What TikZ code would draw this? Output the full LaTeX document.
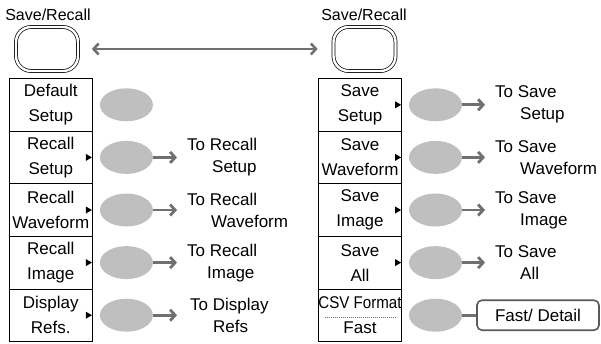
\documentclass[tikz,border=0pt]{standalone}
\usepackage{fontspec}
\setmainfont{Liberation Sans}
\usepackage{graphicx}
\usetikzlibrary{shapes.geometric,arrows.meta}
\definecolor{arrowgray}{RGB}{112,112,112}
\definecolor{keygray}{RGB}{191,191,191}
\definecolor{boxgray}{RGB}{89,89,89}
\begin{document}
\begin{tikzpicture}[x=1pt,y=-1pt,>={Straight Barb[length=5pt,width=11pt]},
  panelkey/.style={draw, double, line width=0.7pt, double distance=2.4pt, rounded corners=15pt, minimum width=62pt, minimum height=44pt, inner sep=0pt},
  menukey/.style={draw, line width=0.8pt, minimum width=83.5pt, minimum height=52.6pt, inner sep=0pt, align=center, font=\fontsize{17}{25}\selectfont},
  softkey/.style={ellipse, fill=keygray, minimum width=53pt, minimum height=33pt, inner sep=0pt},
  hint/.style={anchor=west, inner xsep=10pt, inner ysep=0pt, align=left, font=\fontsize{17}{22}\selectfont},
  hintarrow/.style={->, arrowgray, line width=2.8pt},
  marker/.style={fill=black}]
\useasboundingbox (0,0) rectangle (601,343);
% front panel keys
\node[font=\fontsize{16}{18}\selectfont] (lblL) at (48,15) {Save/Recall};
\node[font=\fontsize{16}{18}\selectfont] (lblR) at (364,15) {Save/Recall};
\node[panelkey] (btnL) at (47,49) {};
\node[panelkey] (btnR) at (364.5,49) {};
\draw[<->, arrowgray, line width=2.6pt, shorten <=13.5pt, shorten >=15.5pt] (btnL) -- (btnR);
% recall menu
\node[menukey] (mL1) at (50.75,104.8) {Default\\Setup};
\node[menukey] (mL2) at (50.75,157.4) {Recall\\Setup};
\node[menukey] (mL3) at (50.75,210) {Recall\\Waveform};
\node[menukey] (mL4) at (50.75,262.6) {Recall\\Image};
\node[menukey] (mL5) at (50.75,315.2) {Display\\Refs.};
\fill[marker] ([xshift=-1pt]mL2.east) -- ++(-6,-3.5) -- ++(0,7) -- cycle;
\fill[marker] ([xshift=-1pt]mL3.east) -- ++(-6,-3.5) -- ++(0,7) -- cycle;
\fill[marker] ([xshift=-1pt]mL4.east) -- ++(-6,-3.5) -- ++(0,7) -- cycle;
\fill[marker] ([xshift=-1pt]mL5.east) -- ++(-6,-3.5) -- ++(0,7) -- cycle;
\node[softkey] (eL1) at (126.4,104.8) {};
\node[softkey] (eL2) at (126.4,157.4) {};
\node[softkey] (eL3) at (126.4,210) {};
\node[softkey] (eL4) at (126.4,262.6) {};
\node[softkey] (eL5) at (126.4,315.2) {};
\node[hint] (tL2) at (177,157.4) {To Recall\\\hspace*{25pt}Setup};
\node[hint] (tL3) at (177,210) {To Recall\\\hspace*{24pt}Waveform};
\node[hint] (tL4) at (177,262.6) {To Recall\\\hspace*{20pt}Image};
\node[hint] (tL5) at (177,315.2) {\hspace*{3pt}To Display\\\hspace*{26pt}Refs};
\draw[hintarrow] (eL2) -- (tL2);
\draw[hintarrow] (eL3) -- (tL3);
\draw[hintarrow] (eL4) -- (tL4);
\draw[hintarrow] (eL5) -- (tL5);
% save menu
\node[menukey] (mR1) at (360,104.8) {Save\\Setup};
\node[menukey] (mR2) at (360,157.4) {Save\\Waveform};
\node[menukey] (mR3) at (360,210) {Save\\Image};
\node[menukey] (mR4) at (360,262.6) {Save\\All};
\node[menukey] (mR5) at (360,315.2) {\scalebox{0.89}[1]{CSV Format}\\Fast};
\draw[arrowgray, line width=0.4pt, dash pattern=on 1pt off 1pt] ([shift={(7,2)}]mR5.west) -- ([shift={(-7,2)}]mR5.east);
\fill[marker] ([xshift=-1pt]mR1.east) -- ++(-6,-3.5) -- ++(0,7) -- cycle;
\fill[marker] ([xshift=-1pt]mR2.east) -- ++(-6,-3.5) -- ++(0,7) -- cycle;
\fill[marker] ([xshift=-1pt]mR3.east) -- ++(-6,-3.5) -- ++(0,7) -- cycle;
\fill[marker] ([xshift=-1pt]mR4.east) -- ++(-6,-3.5) -- ++(0,7) -- cycle;
\node[softkey] (eR1) at (435.5,104.8) {};
\node[softkey] (eR2) at (435.5,157.4) {};
\node[softkey] (eR3) at (435.5,210) {};
\node[softkey] (eR4) at (435.5,262.6) {};
\node[softkey] (eR5) at (435.5,315.2) {};
\node[hint] (tR1) at (485,104.8) {To Save\\\hspace*{25pt}Setup};
\node[hint] (tR2) at (485,157.4) {To Save\\\hspace*{25pt}Waveform};
\node[hint] (tR3) at (485,210) {To Save\\\hspace*{25pt}Image};
\node[hint] (tR4) at (485,262.6) {To Save\\\hspace*{25pt}All};
\draw[hintarrow] (eR1) -- (tR1);
\draw[hintarrow] (eR2) -- (tR2);
\draw[hintarrow] (eR3) -- (tR3);
\draw[hintarrow] (eR4) -- (tR4);
\node[draw=boxgray, line width=1.6pt, rounded corners=5pt, minimum width=122pt, minimum height=30pt, font=\fontsize{17}{20}\selectfont] (fd) at (538,315.2) {Fast/ Detail};
\draw[arrowgray, line width=2.8pt] (eR5) -- (fd);
\end{tikzpicture}
\end{document}
